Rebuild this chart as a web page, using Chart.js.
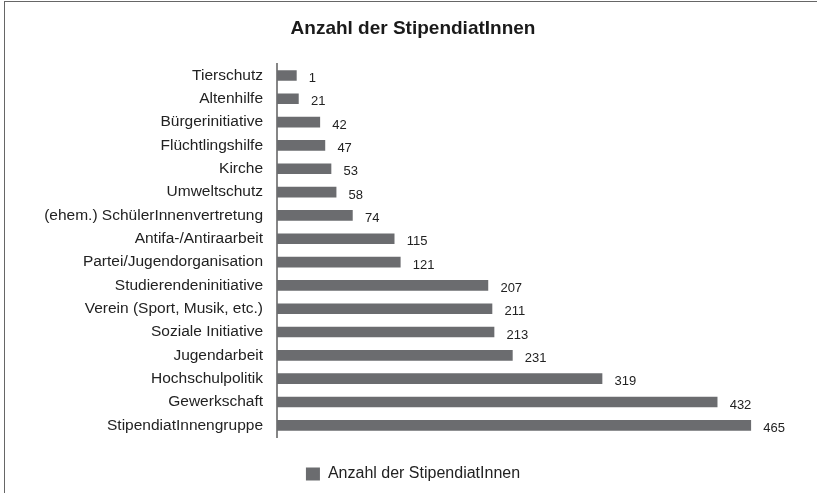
<!DOCTYPE html>
<html>
<head>
<meta charset="utf-8">
<script src="https://cdn.jsdelivr.net/npm/chart.js@4.4.1/dist/chart.umd.min.js"></script>
<style>
  html, body { margin: 0; padding: 0; background: #fff; overflow: hidden; }
  #wrap { position: relative; width: 817px; height: 493px; }
  #frame { position: absolute; left: 4px; top: 1px; width: 900px; height: 600px; border: 1px solid #666; }
  canvas { position: absolute; left: 0; top: 0; }
</style>
</head>
<body>
<div id="wrap">
  <div id="frame"></div>
  <canvas id="chart" width="817" height="493"></canvas>
</div>
<script>
// Kategorien von oben nach unten
var kategorien = ['Tierschutz', 'Altenhilfe', 'Bürgerinitiative', 'Flüchtlingshilfe', 'Kirche', 'Umweltschutz',
    '(ehem.) SchülerInnenvertretung', 'Antifa-/Antiraarbeit', 'Partei/Jugendorganisation', 'Studierendeninitiative',
    'Verein (Sport, Musik, etc.)', 'Soziale Initiative', 'Jugendarbeit', 'Hochschulpolitik', 'Gewerkschaft',
    'StipendiatInnengruppe'];
// Balkenlängen und die Beschriftungen daneben
var anzahl = [19, 21, 42, 47, 53, 58, 74, 115, 121, 207, 211, 213, 231, 319, 432, 465];
var beschriftung = ['1', '21', '42', '47', '53', '58', '74', '115', '121', '207', '211', '213', '231', '319', '432', '465'];

var schrift = '"Liberation Sans", Arial, sans-serif';
var balkenFarbe = '#6b6c6f';

// Werte rechts neben die Balken schreiben
var wertePlugin = {
    id: 'werte',
    afterDatasetsDraw: function (chart) {
        var ctx = chart.ctx;
        var meta = chart.getDatasetMeta(0);
        ctx.save();
        ctx.font = '13px ' + schrift;
        ctx.fillStyle = '#222';
        ctx.textAlign = 'left';
        ctx.textBaseline = 'middle';
        meta.data.forEach(function (bar, i) {
            ctx.fillText(beschriftung[i], bar.x + 12.5, bar.y + 3);
        });
        ctx.restore();
    }
};

var ctx = document.getElementById('chart').getContext('2d');
var myBarChart = new Chart(ctx, {
    type: 'bar',
    data: {
        labels: kategorien,
        datasets: [{
            label: 'Anzahl der StipendiatInnen',
            data: anzahl,
            backgroundColor: balkenFarbe,
            borderWidth: 0,
            barThickness: 10
        }]
    },
    options: {
        indexAxis: 'y',
        responsive: false,
        animation: false,
        layout: { padding: { left: 9, right: 0, top: 0, bottom: 1 } },
        scales: {
            x: {
                display: true,
                min: 0,
                max: 530,
                ticks: { display: false },
                grid: { display: false, drawTicks: false },
                border: { display: false },
                afterFit: function (scale) { scale.height = 19; }
            },
            y: {
                grid: { display: false, drawTicks: false },
                border: { display: true, color: '#868686', width: 2 },
                ticks: {
                    padding: 14,
                    color: '#222',
                    font: { family: schrift, size: 15.5 }
                },
                afterFit: function (scale) { scale.width = 268; }
            }
        },
        plugins: {
            title: {
                display: true,
                text: 'Anzahl der StipendiatInnen',
                color: '#1a1a1a',
                font: { family: schrift, size: 19, weight: 'bold' },
                padding: { top: 17, bottom: 24 }
            },
            legend: {
                display: true,
                position: 'bottom',
                labels: {
                    color: '#222',
                    font: { family: schrift, size: 16 },
                    boxWidth: 14,
                    boxHeight: 13,
                    padding: 10
                }
            },
            tooltip: { enabled: false }
        }
    },
    plugins: [wertePlugin]
});
</script>
</body>
</html>
